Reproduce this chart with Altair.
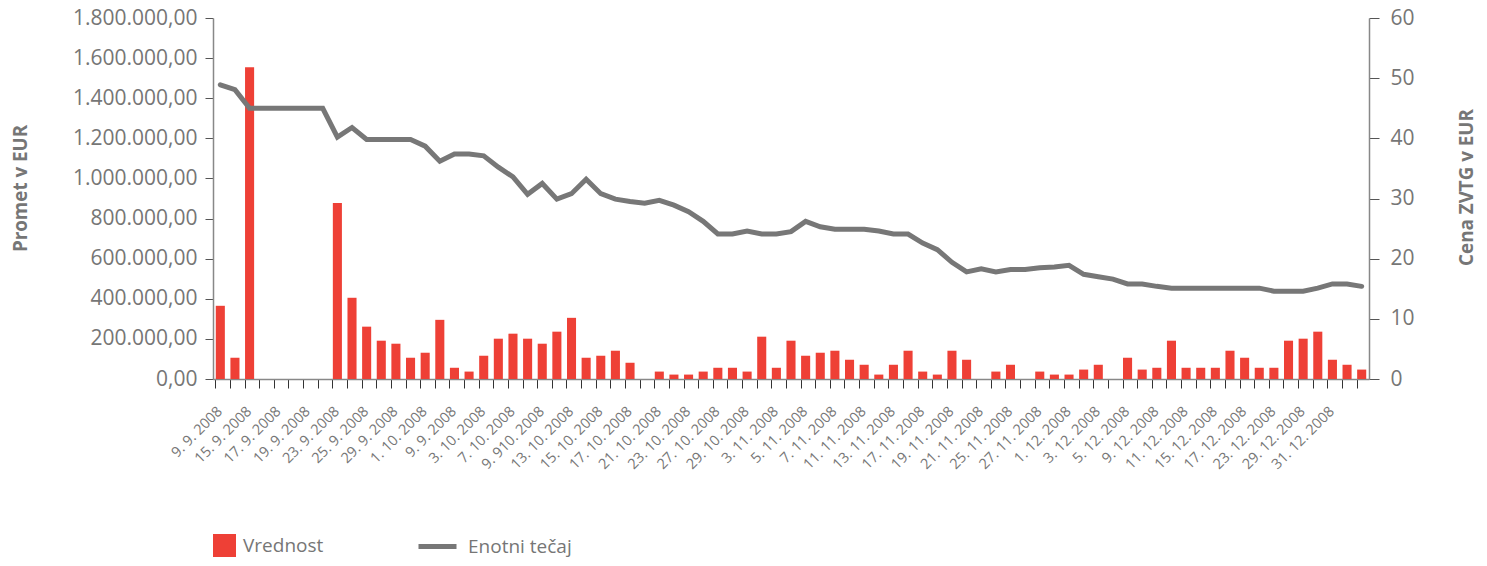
import json
import altair as alt
import pandas as pd

# ---- data ----
date_labels = ["9. 9. 2008", "15. 9. 2008", "17. 9. 2008", "19. 9. 2008", "23. 9. 2008",
               "25. 9. 2008", "29. 9. 2008", "1. 10. 2008", "9.  9.  2008", "3.  10. 2008",
               "7. 10. 2008", "9. 910. 2008", "13. 10. 2008", "15. 10. 2008", "17. 10. 2008",
               "21. 10. 2008", "23. 10. 2008", "27. 10. 2008", "29. 10. 2008", "3. 11. 2008",
               "5. 11. 2008", "7. 11. 2008", "11. 11. 2008", "13. 11. 2008", "17. 11. 2008",
               "19. 11. 2008", "21. 11. 2008", "25. 11. 2008", "27. 11. 2008", "1. 12. 2008",
               "3. 12. 2008", "5. 12. 2008", "9. 12. 2008", "11. 12. 2008", "15. 12. 2008",
               "17. 12. 2008", "23. 12. 2008", "29. 12. 2008", "31. 12. 2008"]

vrednost = [365000, 106000, 1555000, 0, 0, 0, 0, 0, 878000, 405000,
            261000, 191000, 176000, 106000, 131000, 295000, 56000, 37000, 116000, 201000,
            226000, 201000, 176000, 236000, 305000, 106000, 116000, 141000, 81000, 0,
            37000, 22000, 22000, 37000, 56000, 56000, 37000, 211000, 56000, 191000,
            116000, 131000, 141000, 96000, 71000, 22000, 71000, 141000, 37000, 22000,
            141000, 96000, 0, 37000, 71000, 0, 37000, 22000, 22000, 47000,
            71000, 0, 106000, 47000, 56000, 191000, 56000, 56000, 56000, 141000,
            106000, 56000, 56000, 191000, 201000, 236000, 96000, 71000, 47000]

tecaj = [48.9, 48.1, 45.0, 45.0, 45.0, 45.0, 45.0, 45.0, 40.2, 41.8,
         39.8, 39.8, 39.8, 39.8, 38.7, 36.2, 37.4, 37.4, 37.1, 35.2,
         33.6, 30.7, 32.5, 29.9, 30.8, 33.2, 30.8, 29.9, 29.5, 29.2,
         29.7, 28.9, 27.8, 26.2, 24.1, 24.1, 24.6, 24.1, 24.1, 24.5,
         26.2, 25.3, 24.9, 24.9, 24.9, 24.6, 24.1, 24.1, 22.6, 21.5,
         19.4, 17.8, 18.3, 17.8, 18.2, 18.2, 18.5, 18.6, 18.9, 17.4,
         17.0, 16.6, 15.8, 15.8, 15.4, 15.1, 15.1, 15.1, 15.1, 15.1,
         15.1, 15.1, 14.6, 14.6, 14.6, 15.1, 15.8, 15.8, 15.4]

series_names = ["Vrednost", "Enotni tečaj"]
colors = ["#EE4036", "#777777"]

df = pd.DataFrame({
    "i": list(range(len(vrednost))),
    "vrednost": vrednost,
    "tecaj": tecaj,
    "s_bar": series_names[0],
    "s_line": series_names[1],
})

FONT = "Open Sans"
GRAY = "#767676"

label_expr = ("datum.value % 2 == 0 ? " + json.dumps(date_labels, ensure_ascii=False)
              + "[datum.value / 2] : ''")

x_enc = alt.X(
    "i:O",
    title=None,
    scale=alt.Scale(paddingInner=0.38, paddingOuter=0.19),
    axis=alt.Axis(
        bandPosition=0,
        labelExpr=label_expr,
        labelAngle=-45,
        labelOffset=-5,
        labelOverlap=False,
        labelFontSize=14.5,
        labelColor=GRAY,
        labelFont=FONT,
        labelPadding=16,
        tickSize=9,
        tickColor="#333333",
        domainColor="#888888",
        domainWidth=1.5,
    ),
)

left_expr = ("replace(replace(replace(format(datum.value, ',.2f'), regexp(',', 'g'), '_'), "
             "'.', ','), regexp('_', 'g'), '.')")

bars = alt.Chart(df).mark_bar(opacity=1).encode(
    x=x_enc,
    y=alt.Y(
        "vrednost:Q",
        scale=alt.Scale(domain=[0, 1800000], nice=False),
        axis=alt.Axis(
            title="Promet v EUR",
            values=[i * 200000 for i in range(10)],
            labelExpr=left_expr,
            labelFontSize=21,
            labelFont=FONT,
            labelColor=GRAY,
            labelPadding=8,
            tickSize=8,
            tickColor="#555555",
            domainColor="#888888",
            domainWidth=1.5,
            grid=False,
            titleFont=FONT,
            titleFontSize=18.8,
            titleFontWeight="bold",
            titleColor=GRAY,
            titleAngle=270,
            titleBaseline="middle",
            titleAlign="center",
            titleX=-193,
            titleY=170,
        ),
    ),
    fill=alt.Fill(
        "s_bar:N",
        scale=alt.Scale(domain=[series_names[0]], range=[colors[0]]),
        legend=alt.Legend(
            title=None, orient="none", legendX=0, legendY=516,
            symbolType="square", symbolSize=529, symbolStrokeWidth=0,
            labelFontSize=19, labelFont=FONT, labelColor=GRAY, labelOffset=7,
            padding=0,
        ),
    ),
)

line = alt.Chart(df).mark_line(strokeWidth=5, strokeCap="round", strokeJoin="miter").encode(
    x=x_enc,
    y=alt.Y(
        "tecaj:Q",
        scale=alt.Scale(domain=[0, 60], nice=False),
        axis=alt.Axis(
            title="Cena ZVTG v EUR",
            orient="right",
            values=[0, 10, 20, 30, 40, 50, 60],
            labelFontSize=21,
            labelFont=FONT,
            labelColor=GRAY,
            labelPadding=11,
            tickSize=10,
            tickColor="#555555",
            domainColor="#888888",
            domainWidth=1.5,
            grid=False,
            titleFont=FONT,
            titleFontSize=18.8,
            titleFontWeight="bold",
            titleColor=GRAY,
            titleAngle=270,
            titleBaseline="middle",
            titleAlign="center",
            titleX=97,
            titleY=169,
        ),
    ),
    stroke=alt.Stroke(
        "s_line:N",
        scale=alt.Scale(domain=[series_names[1]], range=[colors[1]]),
        legend=alt.Legend(
            title=None, orient="none", legendX=203, legendY=507,
            symbolType="stroke", symbolSize=1444, symbolStrokeWidth=5,
            labelFontSize=19, labelFont=FONT, labelColor=GRAY, labelOffset=9,
            padding=0,
        ),
    ),
)

chart = alt.layer(bars, line).resolve_scale(
    y="independent", fill="independent", stroke="independent"
).properties(
    width=1156,
    height=361,
    autosize=alt.AutoSizeParams(type="none"),
    padding={"left": 205, "top": 10, "right": 110, "bottom": 179},
).configure_view(stroke=None)

chart.save("out.html", embed_options={"renderer": "svg", "actions": False})
